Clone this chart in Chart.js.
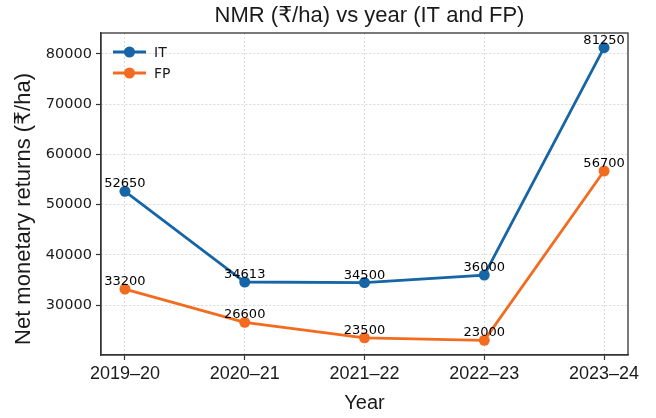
<!DOCTYPE html>
<html>
<head>
<meta charset="utf-8">
<script src="https://cdn.jsdelivr.net/npm/chart.js@4.4.1/dist/chart.umd.min.js"></script>
<style>
    html, body { margin: 0; padding: 0; background: #fff; }
    #wrap { width: 656px; height: 418px; }
</style>
</head>
<body>
<div id="wrap"><canvas id="nmr_chart"></canvas></div>
<script>
const years = ['2019–20', '2020–21', '2021–22', '2022–23', '2023–24'];
const itValues = [52650, 34613, 34500, 36000, 81250];
const fpValues = [33200, 26600, 23500, 23000, 56700];
const yTicks = [30000, 40000, 50000, 60000, 70000, 80000];

const chartTitle = 'NMR (₹/ha) vs year (IT and FP)';
const yTitle = 'Net monetary returns (₹/ha)';

let colors = {
    'it': '#1565a7',
    'fp': '#f26b1f',
    'axis': '#333333',
    'grid': '#d0d0d0',
    'text': '#1a1a1a',
}

const sans = "'Liberation Sans', 'DejaVu Sans', 'Noto Sans', sans-serif";
const dejavu = "'DejaVu Sans', 'Noto Sans', sans-serif";

const toPoints = values => values.map((v, i) => ({ x: i, y: v }));

// frame round the plot area
const boxPlugin = {
    id: 'box',
    afterDatasetsDraw(chart) {
        const { ctx, chartArea: a } = chart;
        ctx.save();
        ctx.strokeStyle = colors.axis;
        ctx.lineWidth = 1.3;
        ctx.strokeRect(a.left, a.top, a.right - a.left, a.bottom - a.top);
        ctx.restore();
    }
};

// value written above every point
const valueLabels = {
    id: 'valueLabels',
    afterDatasetsDraw(chart) {
        const { ctx } = chart;
        ctx.save();
        ctx.font = `13px ${dejavu}`;
        ctx.fillStyle = '#000';
        ctx.textAlign = 'center';
        ctx.textBaseline = 'alphabetic';
        chart.data.datasets.forEach((ds, di) => {
            chart.getDatasetMeta(di).data.forEach((pt, i) => {
                ctx.fillText(String(ds.data[i].y), pt.x, pt.y - 4);
            });
        });
        ctx.restore();
    }
};

// legend inside the top left corner
const insideLegend = {
    id: 'insideLegend',
    afterDraw(chart) {
        const { ctx, chartArea: a } = chart;
        ctx.save();
        ctx.font = `14px ${dejavu}`;
        ctx.textBaseline = 'middle';
        ctx.textAlign = 'left';
        chart.data.datasets.forEach((ds, i) => {
            const y = a.top + 19 + i * 21;
            const x0 = a.left + 12;
            ctx.strokeStyle = ds.borderColor;
            ctx.lineWidth = 2.8;
            ctx.beginPath();
            ctx.moveTo(x0, y);
            ctx.lineTo(x0 + 33, y);
            ctx.stroke();
            ctx.fillStyle = ds.borderColor;
            ctx.beginPath();
            ctx.arc(x0 + 16.5, y, 5.5, 0, Math.PI * 2);
            ctx.fill();
            ctx.fillStyle = colors.text;
            ctx.fillText(ds.label, x0 + 41, y + 1);
        });
        ctx.restore();
    }
};

// title and y axis title, placed like the reference
const titles = {
    id: 'titles',
    afterDraw(chart) {
        const { ctx, chartArea: a } = chart;
        ctx.save();
        ctx.fillStyle = colors.text;
        ctx.textAlign = 'center';
        ctx.textBaseline = 'middle';
        ctx.font = `22px ${sans}`;
        ctx.fillText(chartTitle, (a.left + a.right) / 2 + 5, 16);
        ctx.translate(24, 209);
        ctx.rotate(-Math.PI / 2);
        ctx.fillText(yTitle, 0, 0);
        ctx.restore();
    }
};

const ctx = document.getElementById('nmr_chart');

new Chart(ctx, {
    type: 'line',
    data: {
        datasets: [{
            label: 'IT',
            data: toPoints(itValues),
            borderColor: colors.it,
            backgroundColor: colors.it,
        },
        {
            label: 'FP',
            data: toPoints(fpValues),
            borderColor: colors.fp,
            backgroundColor: colors.fp,
        }]
    },
    options: {
        responsive: true,
        maintainAspectRatio: false,
        animation: false,
        layout: {
            padding: { left: 0, right: 28, top: 33, bottom: 0 }
        },
        elements: {
            line: { borderWidth: 2.8, tension: 0 },
            point: { radius: 5.5, borderWidth: 0, hoverRadius: 5.5 }
        },
        scales: {
            x: {
                type: 'linear',
                min: -0.2,
                max: 4.2,
                afterBuildTicks: s => { s.ticks = years.map((_, i) => ({ value: i })); },
                afterFit: s => { s.height = 63; },
                ticks: {
                    callback: v => years[v],
                    color: colors.text,
                    padding: 3,
                    maxRotation: 0,
                    font: { size: 18, family: sans }
                },
                grid: {
                    color: colors.grid,
                    lineWidth: 0.8,
                    tickColor: colors.axis,
                    tickLength: 5,
                    tickWidth: 1.2,
                },
                border: { color: colors.axis, width: 1.3, dash: [2, 2] },
                title: {
                    display: true,
                    text: 'Year',
                    color: colors.text,
                    padding: { top: 0, bottom: 3 },
                    font: { size: 20, family: sans }
                }
            },
            y: {
                min: 20088,
                max: 84162,
                afterBuildTicks: s => { s.ticks = yTicks.map(v => ({ value: v })); },
                afterFit: s => { s.width = 101; },
                ticks: {
                    callback: v => String(v),
                    color: colors.text,
                    padding: 4,
                    font: { size: 14.5, family: dejavu }
                },
                grid: {
                    color: colors.grid,
                    lineWidth: 0.8,
                    tickColor: colors.axis,
                    tickLength: 5,
                    tickWidth: 1.2,
                },
                border: { color: colors.axis, width: 1.3, dash: [2, 2] }
            }
        },
        plugins: {
            legend: { display: false },
            tooltip: { enabled: false },
            title: { display: false }
        }
    },
    plugins: [boxPlugin, valueLabels, insideLegend, titles]
});
</script>
</body>
</html>
